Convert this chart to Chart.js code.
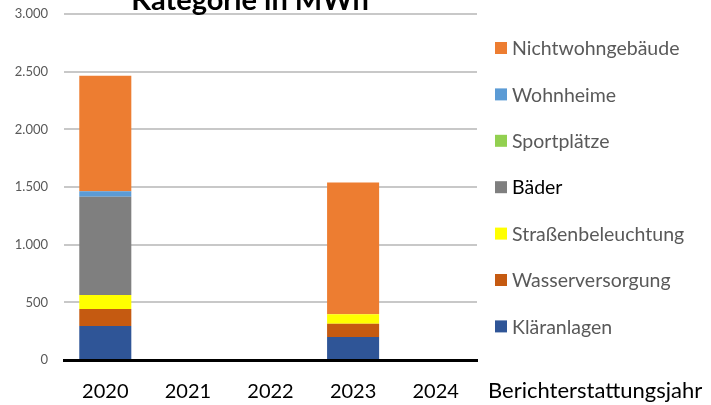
<!DOCTYPE html>
<html>
<head>
  <title>Kategorie in MWh</title>
  <style>
    html, body {
      margin: 0;
      padding: 0;
      background: #ffffff;
    }
    .chart-wrap {
      width: 711px;
      height: 405px;
      position: relative;
    }
  </style>
</head>
<body>
  <div class="chart-wrap">
    <canvas id="energyChart" width="711" height="405"></canvas>
  </div>

  <script src="https://cdn.jsdelivr.net/npm/chart.js"></script>
  <script>
    // data (MWh)
    const years = ['2020', '2021', '2022', '2023', '2024'];
    const klaeranlagen = [295, 0, 0, 200, 0];
    const wasserversorgung = [148, 0, 0, 115, 0];
    const strassenbeleuchtung = [121, 0, 0, 82, 0];
    const baeder = [851, 0, 0, 0, 0];
    const sportplaetze = [0, 0, 0, 0, 0];
    const wohnheime = [49, 0, 0, 0, 0];
    const nichtwohngebaeude = [1001, 0, 0, 1142, 0];
    const yTicks = [0, 500, 1000, 1500, 2000, 2500, 3000];

    const chartTitle = 'Kategorie in MWh';
    const xAxisTitle = 'Berichterstattungsjahr';
    const font = 'Lato, "Open Sans", sans-serif';

    function deNumber(v) {
      return String(v).replace(/\B(?=(\d{3})+(?!\d))/g, '.');
    }

    // title (cut off at the top), x axis title and legend on the right
    const extrasPlugin = {
      id: 'extras',
      afterDraw(chart) {
        const ctx = chart.ctx;
        ctx.save();
        ctx.fillStyle = '#000000';
        ctx.font = 'bold 29px ' + font;
        ctx.textAlign = 'center';
        ctx.textBaseline = 'alphabetic';
        ctx.fillText(chartTitle, 250, 10);

        ctx.font = '22px ' + font;
        ctx.textAlign = 'left';
        ctx.fillText(xAxisTitle, 488, 398);

        const sets = chart.data.datasets.slice().reverse();
        ctx.font = '19.5px ' + font;
        ctx.textBaseline = 'middle';
        sets.forEach((ds, i) => {
          const y = 48 + i * 46.4;
          ctx.fillStyle = ds.backgroundColor;
          ctx.fillRect(495, y - 6, 12, 12);
          ctx.fillStyle = ds.legendColor;
          ctx.fillText(ds.label, 512, y + 1);
        });
        ctx.restore();
      }
    };

    const ctx = document.getElementById('energyChart').getContext('2d');
    new Chart(ctx, {
      type: 'bar',
      data: {
        labels: years,
        datasets: [
          { label: 'Kläranlagen', data: klaeranlagen, backgroundColor: '#2F5597', legendColor: '#595959' },
          { label: 'Wasserversorgung', data: wasserversorgung, backgroundColor: '#C55A11', legendColor: '#595959' },
          { label: 'Straßenbeleuchtung', data: strassenbeleuchtung, backgroundColor: '#FFFF00', legendColor: '#595959' },
          { label: 'Bäder', data: baeder, backgroundColor: '#7F7F7F', legendColor: '#000000' },
          { label: 'Sportplätze', data: sportplaetze, backgroundColor: '#92D050', legendColor: '#595959' },
          { label: 'Wohnheime', data: wohnheime, backgroundColor: '#5B9BD5', legendColor: '#595959' },
          { label: 'Nichtwohngebäude', data: nichtwohngebaeude, backgroundColor: '#ED7D31', legendColor: '#595959' }
        ]
      },
      options: {
        responsive: false,
        animation: false,
        maintainAspectRatio: false,
        datasets: {
          bar: {
            barPercentage: 0.63,
            categoryPercentage: 1.0,
            borderWidth: 0
          }
        },
        layout: {
          padding: { left: 0, right: 234, top: 14, bottom: 0 }
        },
        plugins: {
          legend: { display: false },
          title: { display: false },
          tooltip: { enabled: false }
        },
        scales: {
          x: {
            stacked: true,
            grid: { display: false, drawTicks: false },
            border: { display: true, color: '#000000', width: 3 },
            ticks: {
              color: '#000000',
              font: { family: font, size: 20 },
              padding: 20
            },
            afterFit(scale) {
              scale.height = 45;
              scale.paddingLeft = 0;
              scale.paddingRight = 0;
            }
          },
          y: {
            stacked: true,
            min: 0,
            max: 3000,
            afterBuildTicks(scale) {
              scale.ticks = yTicks.map(v => ({ value: v }));
            },
            grid: {
              color: '#C8C8C8',
              lineWidth: 2,
              drawTicks: false
            },
            border: { display: false },
            ticks: {
              color: '#595959',
              font: { family: font, size: 13 },
              padding: 16,
              callback: (v) => deNumber(v)
            },
            afterFit(scale) {
              scale.width = 64;
              scale.paddingTop = 0;
              scale.paddingBottom = 0;
            }
          }
        }
      },
      plugins: [extrasPlugin]
    });
  </script>
</body>
</html>
